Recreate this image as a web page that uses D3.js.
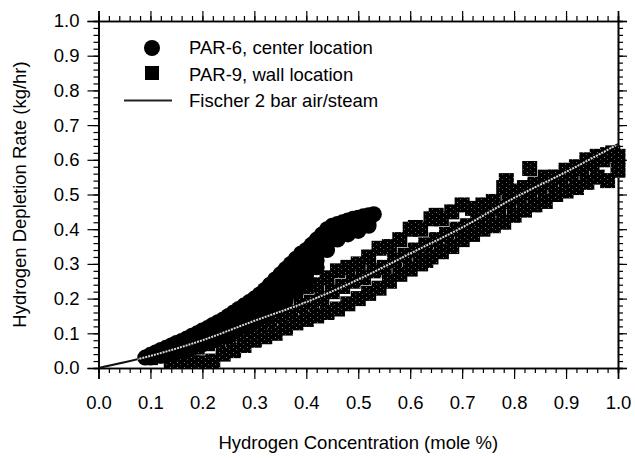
<!DOCTYPE html>
<html>
<head>
<meta charset="utf-8">
<script src="https://cdn.jsdelivr.net/npm/d3@7"></script>
<style>
  body { margin: 0; background: #fff; }
  svg { font-family: "Liberation Sans", Arial, Helvetica, sans-serif; }
</style>
</head>
<body>
<script>
// PAR-6, center location (x = mole %, y = kg/hr)
const par6Upper = [
  [0.09,0.03],[0.10,0.038],[0.11,0.045],[0.12,0.052],[0.13,0.058],[0.14,0.065],[0.15,0.072],
  [0.16,0.078],[0.17,0.085],[0.18,0.093],[0.19,0.10],[0.20,0.108],[0.21,0.115],[0.22,0.124],
  [0.23,0.132],[0.24,0.14],[0.25,0.15],[0.26,0.16],[0.27,0.17],[0.28,0.18],[0.29,0.19],
  [0.30,0.20],[0.31,0.212],[0.32,0.225],[0.33,0.24],[0.34,0.255],[0.35,0.27],[0.36,0.285],
  [0.37,0.30],[0.38,0.315],[0.39,0.33],[0.40,0.34],[0.41,0.355],[0.42,0.37],[0.43,0.385],
  [0.44,0.40],[0.45,0.41],[0.46,0.415],[0.47,0.42],[0.48,0.425],[0.49,0.43],[0.50,0.433],
  [0.51,0.437],[0.52,0.44],[0.53,0.443]
];
const par6Middle = [
  [0.13,0.045],[0.15,0.058],[0.17,0.068],[0.19,0.08],[0.21,0.09],[0.23,0.108],[0.25,0.12],
  [0.27,0.14],[0.29,0.15],[0.30,0.165],[0.31,0.17],[0.31,0.19],[0.32,0.185],[0.33,0.20],
  [0.34,0.21],[0.35,0.23],[0.36,0.22],[0.36,0.24],[0.37,0.25],[0.37,0.27],[0.38,0.25],
  [0.38,0.265],[0.39,0.28],[0.39,0.30],[0.40,0.27],[0.40,0.295],[0.41,0.31],[0.41,0.33],
  [0.42,0.31],[0.42,0.33],[0.43,0.35],[0.43,0.365],[0.44,0.37],[0.45,0.38],[0.46,0.395],
  [0.47,0.395],[0.48,0.405],[0.49,0.41],[0.50,0.415],[0.51,0.42],[0.52,0.425]
];
const par6Lower = [
  [0.10,0.03],[0.12,0.035],[0.14,0.042],[0.16,0.05],[0.18,0.058],[0.20,0.068],[0.22,0.08],
  [0.24,0.092],[0.26,0.105],[0.28,0.12],[0.30,0.135],[0.32,0.15],[0.34,0.17],[0.36,0.195],
  [0.38,0.22],[0.40,0.25],[0.42,0.29],[0.44,0.34],[0.46,0.37],[0.48,0.385],[0.50,0.395],[0.52,0.41]
];

// PAR-9, wall location
const par9Upper = [
  [0.10,0.03],[0.12,0.04],[0.14,0.05],[0.16,0.06],[0.18,0.07],[0.20,0.08],[0.22,0.09],
  [0.24,0.10],[0.26,0.11],[0.28,0.125],[0.30,0.14],[0.32,0.155],[0.34,0.17],[0.36,0.20],
  [0.38,0.22],[0.40,0.235],[0.42,0.24],[0.44,0.26],[0.46,0.28],[0.48,0.29],[0.50,0.30],
  [0.52,0.32],[0.54,0.345],[0.56,0.35],[0.58,0.37],[0.60,0.40],[0.62,0.40],[0.64,0.43],
  [0.66,0.43],[0.68,0.45],[0.70,0.47],[0.72,0.46],[0.74,0.47],[0.76,0.48],[0.78,0.52],
  [0.80,0.51],[0.82,0.52],[0.84,0.53],[0.86,0.55],[0.88,0.55],[0.90,0.57],[0.92,0.58],
  [0.94,0.60],[0.96,0.61],[0.98,0.615],[1.00,0.61]
];
const par9Middle = [
  [0.11,0.035],[0.13,0.04],[0.15,0.045],[0.17,0.05],[0.19,0.06],[0.21,0.07],[0.23,0.08],
  [0.25,0.09],[0.27,0.10],[0.29,0.11],[0.31,0.12],[0.33,0.135],[0.35,0.15],[0.37,0.16],
  [0.39,0.18],[0.41,0.19],[0.43,0.20],[0.45,0.22],[0.47,0.235],[0.49,0.25],[0.51,0.26],
  [0.53,0.28],[0.55,0.29],[0.57,0.31],[0.59,0.325],[0.61,0.34],[0.63,0.355],[0.65,0.37],
  [0.67,0.385],[0.69,0.40],[0.71,0.41],[0.73,0.43],[0.75,0.445],[0.77,0.46],[0.79,0.48],
  [0.81,0.49],[0.83,0.505],[0.85,0.52],[0.87,0.535],[0.89,0.55],[0.91,0.56],[0.93,0.575],
  [0.95,0.59],[0.97,0.60],[0.99,0.62]
];
const par9Lower = [
  [0.14,0.02],[0.16,0.015],[0.18,0.015],[0.20,0.015],[0.22,0.02],[0.24,0.04],[0.26,0.05],
  [0.28,0.065],[0.30,0.08],[0.32,0.09],[0.34,0.10],[0.36,0.115],[0.38,0.13],[0.40,0.14],
  [0.42,0.15],[0.44,0.16],[0.46,0.17],[0.48,0.185],[0.50,0.20],[0.52,0.215],[0.54,0.23],
  [0.56,0.25],[0.58,0.27],[0.60,0.285],[0.62,0.30],[0.63,0.31],[0.64,0.32],[0.66,0.335],
  [0.68,0.35],[0.70,0.37],[0.72,0.385],[0.74,0.40],[0.76,0.41],[0.78,0.42],[0.80,0.44],
  [0.82,0.455],[0.84,0.47],[0.86,0.48],[0.88,0.50],[0.90,0.51],[0.92,0.52],[0.94,0.535],
  [0.96,0.55],[0.98,0.54],[1.00,0.57]
];
const par9Outliers = [[0.83,0.575],[0.61,0.405],[0.65,0.44],[0.785,0.54]];

// Fischer 2 bar air/steam correlation
const fischer = [
  [0,0],[0.09,0.031],[0.2,0.08],[0.3,0.136],[0.4,0.19],[0.5,0.255],[0.6,0.33],
  [0.7,0.405],[0.8,0.49],[0.9,0.565],[1.0,0.645]
];

const legendLabels = ["PAR-6, center location", "PAR-9, wall location", "Fischer 2 bar air/steam"];
const xTitle = "Hydrogen Concentration (mole %)";
const yTitle = "Hydrogen Depletion Rate (kg/hr)";

const par6 = par6Upper.concat(par6Middle, par6Lower);
const par9 = par9Upper.concat(par9Middle, par9Lower, par9Outliers);

const W = 635, H = 458;
const m = {left: 98.5, right: 17, top: 21, bottom: 90};
const R = 8, S = 15;

const svg = d3.select("body").append("svg")
  .attr("width", W).attr("height", H);

const x = d3.scaleLinear().domain([0, 1]).range([m.left, W - m.right]);
const y = d3.scaleLinear().domain([0, 1]).range([H - m.bottom, m.top]);

const defs = svg.append("defs");
const pat = defs.append("pattern").attr("id", "speck")
  .attr("patternUnits", "userSpaceOnUse").attr("width", 7).attr("height", 5);
pat.append("rect").attr("width", 7).attr("height", 5).attr("fill", "#000");
pat.append("rect").attr("x", 2).attr("y", 2).attr("width", 1).attr("height", 1).attr("fill", "#7a7a7a");
pat.append("rect").attr("x", 5).attr("y", 4).attr("width", 1).attr("height", 1).attr("fill", "#555");
defs.append("clipPath").attr("id", "plot").append("rect")
  .attr("x", x(0)).attr("y", 0).attr("width", x(1) - x(0) + 12).attr("height", y(0));

// union of all markers, used to show the fit line light where it crosses them
const mk = defs.append("clipPath").attr("id", "markers");
mk.selectAll("rect").data(par9).enter().append("rect")
  .attr("x", d => x(d[0]) - S / 2).attr("y", d => y(d[1]) - S / 2).attr("width", S).attr("height", S);
mk.selectAll("circle").data(par6).enter().append("circle")
  .attr("cx", d => x(d[0])).attr("cy", d => y(d[1])).attr("r", R);

const majors = d3.range(0, 1.0001, 0.1);
const minors = d3.range(0, 1.0001, 0.02);
const fmt = d3.format(".1f");

// minor ticks
svg.append("g").attr("transform", `translate(0,${y(0)})`)
  .call(d3.axisBottom(x).tickValues(minors).tickSize(5).tickFormat(""));
svg.append("g").attr("transform", `translate(0,${y(1)})`)
  .call(d3.axisTop(x).tickValues(minors).tickSize(5).tickFormat(""));
svg.append("g").attr("transform", `translate(${x(0)},0)`)
  .call(d3.axisLeft(y).tickValues(minors).tickSize(5).tickFormat(""));
svg.append("g").attr("transform", `translate(${x(1)},0)`)
  .call(d3.axisRight(y).tickValues(minors).tickSize(5).tickFormat(""));

// major ticks
svg.append("g").attr("transform", `translate(0,${y(0)})`)
  .call(d3.axisBottom(x).tickValues(majors).tickSize(11).tickPadding(17).tickFormat(fmt));
svg.append("g").attr("transform", `translate(0,${y(1)})`)
  .call(d3.axisTop(x).tickValues(majors).tickSize(10).tickFormat(""));
svg.append("g").attr("transform", `translate(${x(0)},0)`)
  .call(d3.axisLeft(y).tickValues(majors).tickSize(11).tickPadding(8).tickFormat(fmt));
svg.append("g").attr("transform", `translate(${x(1)},0)`)
  .call(d3.axisRight(y).tickValues(majors).tickSize(9).tickFormat(""));

svg.selectAll(".domain").attr("stroke", "#000").attr("stroke-width", 1.6);
svg.selectAll(".tick line").attr("stroke", "#000").attr("stroke-width", 1.2);
svg.selectAll(".tick text").attr("fill", "#000").attr("font-size", 18.5)
  .attr("font-family", "Liberation Sans, Arial, sans-serif");

const line = d3.line().curve(d3.curveMonotoneX).x(d => x(d[0])).y(d => y(d[1]));
const plot = svg.append("g").attr("clip-path", "url(#plot)");

// dark line on bare paper
plot.append("path").datum(fischer).attr("d", line)
  .attr("fill", "none").attr("stroke", "#111").attr("stroke-width", 2);

plot.selectAll("rect.sq").data(par9).enter().append("rect").attr("class", "sq")
  .attr("x", d => x(d[0]) - S / 2).attr("y", d => y(d[1]) - S / 2)
  .attr("width", S).attr("height", S).attr("fill", "url(#speck)");

plot.selectAll("circle.c").data(par6).enter().append("circle").attr("class", "c")
  .attr("cx", d => x(d[0])).attr("cy", d => y(d[1])).attr("r", R).attr("fill", "#000");

// light dotted line over the markers
svg.append("g").attr("clip-path", "url(#markers)")
  .append("path").datum(fischer).attr("d", line)
  .attr("fill", "none").attr("stroke", "#d8d8d8").attr("stroke-width", 2)
  .attr("stroke-dasharray", "2,1");

// legend
const lg = svg.append("g");
lg.append("circle").attr("cx", 152).attr("cy", 48).attr("r", 8).attr("fill", "#000");
lg.append("rect").attr("x", 145).attr("y", 66).attr("width", 14).attr("height", 14).attr("fill", "#000");
lg.append("line").attr("x1", 124).attr("x2", 172).attr("y1", 100.5).attr("y2", 100.5)
  .attr("stroke", "#222").attr("stroke-width", 2);
lg.selectAll("text").data(legendLabels).enter().append("text")
  .attr("x", 189).attr("y", (d, i) => 48 + i * 26.5).attr("dy", "0.35em")
  .attr("font-size", 18.5).text(d => d);

// axis titles
svg.append("text").attr("x", (x(0) + x(1)) / 2).attr("y", 449)
  .attr("text-anchor", "middle").attr("font-size", 18.5).text(xTitle);
svg.append("text").attr("transform", `translate(26,${(y(0) + y(1)) / 2}) rotate(-90)`)
  .attr("text-anchor", "middle").attr("font-size", 18.5).text(yTitle);
</script>
</body>
</html>
